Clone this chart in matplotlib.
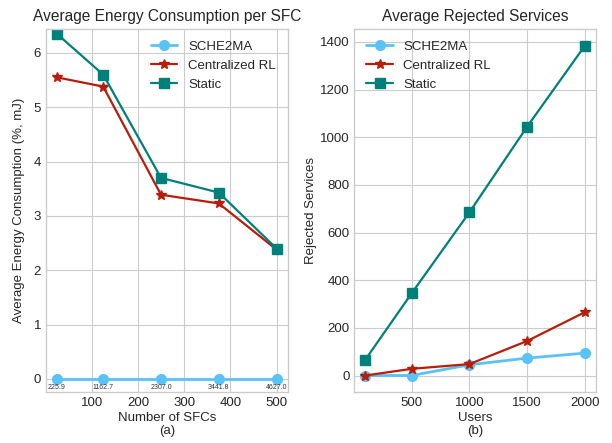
import matplotlib
matplotlib.use("Agg")
import matplotlib.pyplot as plt

plt.style.use("seaborn-v0_8-whitegrid")
plt.rcParams['font.family'] = ['Liberation Sans', 'DejaVu Sans']

# Panel (a)
sfcs = [25, 125, 250, 375, 500]
energy_sche2ma = [0.0, 0.0, 0.0, 0.0, 0.0]
energy_central = [5.55, 5.38, 3.39, 3.23, 2.38]
energy_static = [6.35, 5.60, 3.70, 3.43, 2.40]
sche2ma_labels = [225.9, 1162.7, 2307.0, 3441.8, 4627.0]
xticks_a = [100, 200, 300, 400, 500]

# Panel (b)
users = [100, 500, 1000, 1500, 2000]
rej_sche2ma = [0, 0, 45, 73, 94]
rej_central = [0, 28, 48, 145, 266]
rej_static = [67, 345, 685, 1045, 1385]
xticks_b = [500, 1000, 1500, 2000]

c_blue = '#5AC2F5'
c_red = '#B81D0B'
c_teal = '#00807A'

fs = 9.5

fig, (ax1, ax2) = plt.subplots(1, 2, figsize=(6.12, 4.43), dpi=100)
fig.subplots_adjust(left=46/612, right=596/612, top=1-29/443, bottom=1-392/443, wspace=0.277)

ax1.plot(sfcs, energy_sche2ma, color=c_blue, marker='o', markersize=7, lw=2, label='SCHE2MA')
ax1.plot(sfcs, energy_central, color=c_red, marker='*', markersize=7.5, lw=1.6, label='Centralized RL')
ax1.plot(sfcs, energy_static, color=c_teal, marker='s', markersize=7, lw=1.6, label='Static')
for x, y, t in zip(sfcs, energy_sche2ma, sche2ma_labels):
    ax1.annotate(f"{t:.1f}", (x, y), xytext=(0, -6), textcoords='offset points',
                 ha='center', va='center', fontsize=5, color='#333333')
ax1.set_ylim(-0.24, 6.44)
ax1.set_xticks(xticks_a)
ax1.set_title('Average Energy Consumption per SFC', fontsize=11.2)
ax1.set_xlabel('Number of SFCs\n(a)', fontsize=fs, labelpad=2)
ax1.set_ylabel('Average Energy Consumption (%, mJ)', fontsize=fs, labelpad=6)
ax1.legend(loc='upper right', fontsize=fs)

ax2.plot(users, rej_sche2ma, color=c_blue, marker='o', markersize=7, lw=2, label='SCHE2MA')
ax2.plot(users, rej_central, color=c_red, marker='*', markersize=7.5, lw=1.6, label='Centralized RL')
ax2.plot(users, rej_static, color=c_teal, marker='s', markersize=7, lw=1.6, label='Static')
ax2.set_xticks(xticks_b)
ax2.set_title('Average Rejected Services', fontsize=11.2)
ax2.set_xlabel('Users\n(b)', fontsize=fs, labelpad=2)
ax2.set_ylabel('Rejected Services', fontsize=fs, labelpad=2)
ax2.legend(loc='upper left', fontsize=fs)

for ax in (ax1, ax2):
    ax.tick_params(labelsize=fs)
    for s in ax.spines.values():
        s.set_visible(True)
        s.set_color('#cccccc')

fig.savefig('out.png', dpi=100)
